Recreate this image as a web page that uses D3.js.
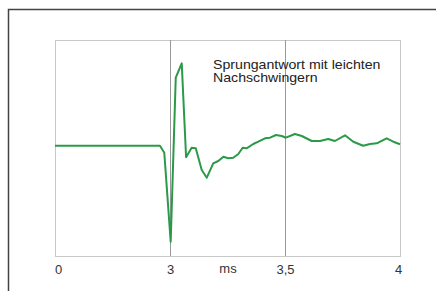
<!DOCTYPE html>
<html>
<head>
<meta charset="utf-8">
<script src="https://cdn.jsdelivr.net/npm/d3@7"></script>
<style>
  body { margin: 0; background: #fff; }
  text { font-family: "Liberation Sans", Arial, sans-serif; }
</style>
</head>
<body>
<div id="chart"></div>
<script>
// step response data (time in ms, relative amplitude)
var times = [0, 2.739, 2.851, 3.003, 3.025, 3.051, 3.070, 3.094, 3.112, 3.138, 3.160,
  3.188, 3.210, 3.232, 3.253, 3.275, 3.297, 3.316, 3.333, 3.362, 3.384, 3.413, 3.435,
  3.461, 3.486, 3.504, 3.543, 3.573, 3.616, 3.652, 3.688, 3.717, 3.761, 3.797, 3.840,
  3.870, 3.899, 3.942, 3.971, 4.0];
var amps = [0, 0, -0.07, -0.96, 0.68, 0.824, -0.116, -0.02, -0.026, -0.243, -0.32,
  -0.176, -0.153, -0.11, -0.126, -0.12, -0.083, -0.02, -0.026, 0.017, 0.04, 0.074, 0.08,
  0.107, 0.097, 0.08, 0.117, 0.097, 0.047, 0.047, 0.067, 0.047, 0.104, 0.04, 0,
  0.017, 0.024, 0.074, 0.04, 0.014];
var tickValues = [0, 3, 3.5, 4];
var tickLabels = ["0", "3", "3,5", "4"];
var gridValues = [3, 3.5];
var unitLabel = "ms";
var title = ["Sprungantwort mit leichten", "Nachschwingern"];

var W = 436, H = 291;
var margin = {left: 55, right: 400, top: 40, bottom: 256};

var svg = d3.select("#chart").append("svg")
  .attr("width", W).attr("height", H);

// outer frame (only top and left visible)
svg.append("path")
  .attr("d", "M8.5," + H + "V9.5H" + W)
  .attr("fill", "none").attr("stroke", "#444").attr("stroke-width", 1.5);

// x axis is not linear: 0..3 squeezed
var x = d3.scaleLinear().domain([0, 3, 3.5, 4]).range([margin.left, 170, 285, margin.right]);
var y = d3.scaleLinear().domain([-1, 1]).range([245.7, 45.7]);

// plot frame
svg.append("rect")
  .attr("x", margin.left + 0.5).attr("y", margin.top + 0.5)
  .attr("width", margin.right - margin.left).attr("height", margin.bottom - margin.top)
  .attr("fill", "none").attr("stroke", "#c8c8c8").attr("stroke-width", 1);

// grid lines
svg.selectAll(".grid").data(gridValues).enter().append("line")
  .attr("class", "grid")
  .attr("x1", function(d){ return Math.round(x(d)) + 0.5; })
  .attr("x2", function(d){ return Math.round(x(d)) + 0.5; })
  .attr("y1", margin.top).attr("y2", margin.bottom)
  .attr("stroke", "#999").attr("stroke-width", 1);

// tick labels
var xAxis = d3.axisBottom(x).tickValues(tickValues).tickSize(0)
  .tickFormat(function(d, i){ return tickLabels[i]; });
var ax = svg.append("g").attr("transform", "translate(0," + margin.bottom + ")").call(xAxis);
ax.select(".domain").remove();
ax.selectAll("text")
  .attr("y", 9).attr("fill", "#333")
  .style("font-size", "13px");
ax.selectAll(".tick").filter(function(d){ return d === 0; }).select("text").attr("dx", 3);
ax.selectAll(".tick").filter(function(d){ return d === 4; }).select("text").attr("dx", -2);

svg.append("text")
  .attr("x", 228).attr("y", 273)
  .attr("text-anchor", "middle").attr("fill", "#333")
  .style("font-size", "13px")
  .text(unitLabel);

// curve
var line = d3.line()
  .x(function(d){ return x(d[0]); })
  .y(function(d){ return y(d[1]); });

svg.append("path")
  .datum(d3.zip(times, amps))
  .attr("d", line)
  .attr("fill", "none")
  .attr("stroke", "#2a9a48")
  .attr("stroke-width", 2)
  .attr("stroke-linejoin", "round");

// annotation (source text is slightly stretched horizontally)
svg.selectAll(".title").data(title).enter().append("text")
  .attr("class", "title")
  .attr("transform", function(d, i){ return "translate(213," + (68.5 + i * 13.5) + ") scale(1.18,1)"; })
  .attr("fill", "#222")
  .style("font-size", "12px")
  .text(function(d){ return d; });
</script>
</body>
</html>
